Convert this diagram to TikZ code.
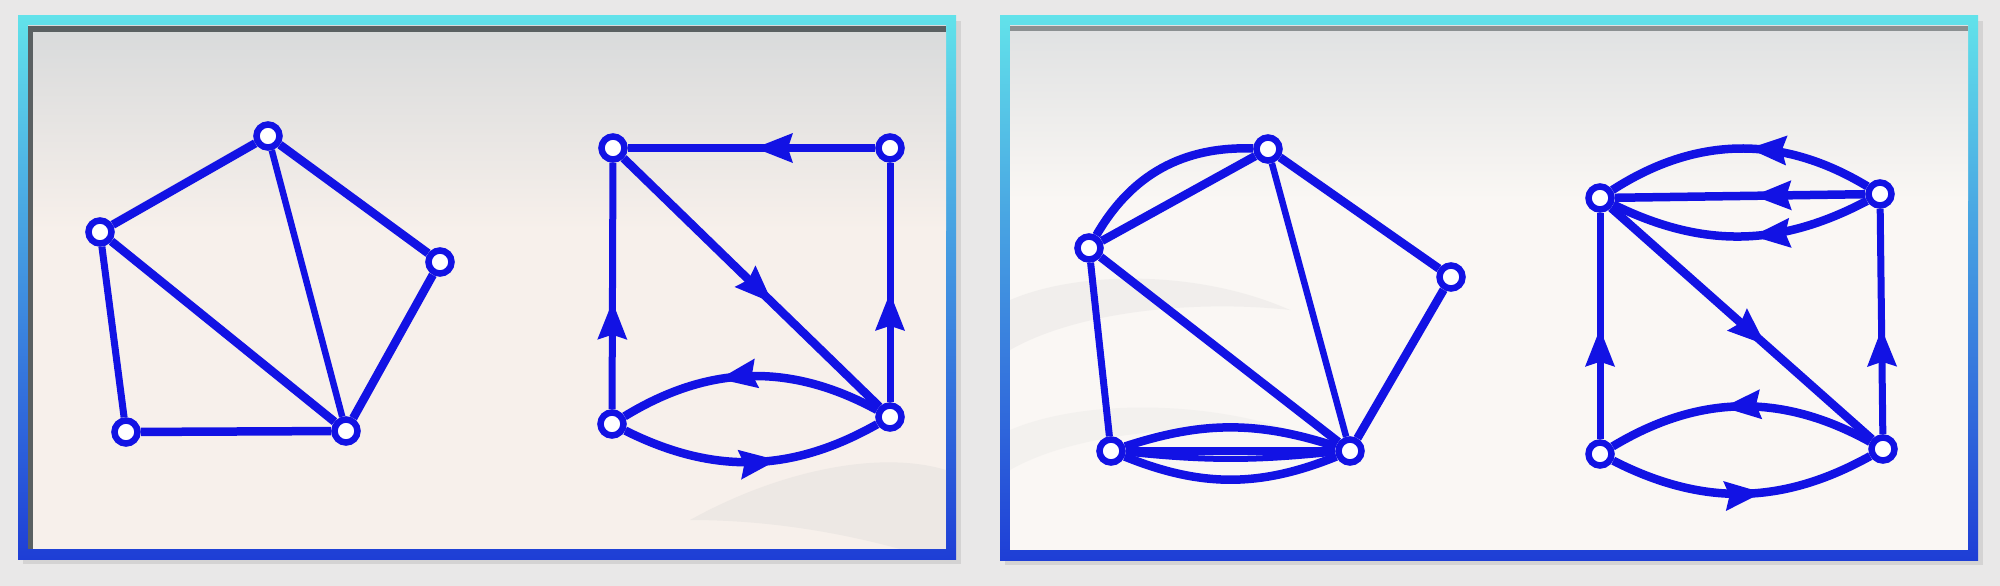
\documentclass[tikz,border=0pt]{standalone}
\usetikzlibrary{decorations.markings}
\definecolor{gblue}{RGB}{18,18,228}
\definecolor{fcyan}{RGB}{98,226,234}
\definecolor{fblue}{RGB}{30,62,214}
\definecolor{bgtop}{RGB}{216,218,219}
\definecolor{bgcream}{RGB}{247,240,235}
\definecolor{bgwhite}{RGB}{250,247,244}
\definecolor{outbg}{RGB}{233,232,232}
\definecolor{shadowc}{RGB}{90,96,98}
\pgfdeclarelayer{back}
\pgfdeclarelayer{edges}
\pgfsetlayers{back,edges,main}
\begin{document}
\begin{tikzpicture}[x=1pt,y=1pt,
  vtx/.style={circle,draw=gblue,line width=6.5pt,fill=white,inner sep=0pt,minimum size=23pt},
  edge/.style={gblue,line width=8.5pt},
  midarrow/.style={postaction={decorate},decoration={markings,mark=at position #1 with {\fill[gblue] (4pt,0pt) -- (-34pt,15pt) -- (-29pt,0pt) -- (-34pt,-15pt) -- cycle;}}},
  midarrow/.default=0.5,
  framebox/.style={top color=fcyan,bottom color=fblue}]
\useasboundingbox (0,0) rectangle (2000,-586);
\begin{pgfonlayer}{back}
  \fill[outbg] (0,0) rectangle (2000,-586);
  % left panel
  \fill[gray!45,opacity=0.6] (23,-21) rectangle (961,-564);
  \shade[framebox] (18,-16) rectangle (956,-559);
  \fill[bgcream] (28,-26) rectangle (946,-549);
  \shade[top color=bgtop,bottom color=bgcream] (28,-26) rectangle (946,-230);
  \fill[shadowc] (28,-26) rectangle (946,-32);
  \fill[shadowc] (28,-26) rectangle (33,-549);
  \fill[gray!40,opacity=0.22] (690,-520) .. controls (780,-470) and (880,-450) .. (946,-470) -- (946,-549) -- (900,-549) .. controls (830,-530) and (760,-520) .. (690,-520) -- cycle;
  % right panel
  \fill[gray!45,opacity=0.6] (1005,-21) rectangle (1983,-565);
  \shade[framebox] (1000,-16) rectangle (1978,-560);
  \fill[bgwhite] (1010,-26) rectangle (1968,-550);
  \shade[top color=bgtop!80!white,bottom color=bgwhite] (1010,-26) rectangle (1968,-200);
  \fill[shadowc!70] (1010,-26) rectangle (1968,-31);
  \fill[gray!35,opacity=0.22] (1010,-300) .. controls (1080,-270) and (1200,-270) .. (1290,-310) .. controls (1200,-300) and (1080,-310) .. (1010,-350) -- cycle;
  \fill[gray!30,opacity=0.2] (1010,-430) .. controls (1080,-400) and (1200,-400) .. (1290,-430) .. controls (1200,-425) and (1080,-430) .. (1010,-470) -- cycle;
\end{pgfonlayer}

% left undirected graph
\node[vtx] (A) at (268,-136) {};
\node[vtx] (B) at (100,-232) {};
\node[vtx] (C) at (440,-262) {};
\node[vtx] (D) at (126,-432) {};
\node[vtx] (E) at (346,-431) {};
% left directed graph
\node[vtx] (P) at (613,-148) {};
\node[vtx] (Q) at (890,-148) {};
\node[vtx] (R) at (612,-424) {};
\node[vtx] (S) at (890,-417) {};
% right undirected multigraph
\node[vtx] (A2) at (1268,-149) {};
\node[vtx] (B2) at (1089,-248) {};
\node[vtx] (C2) at (1451,-277) {};
\node[vtx] (D2) at (1111,-451) {};
\node[vtx] (E2) at (1350,-451) {};
% right directed multigraph
\node[vtx] (P2) at (1600,-198) {};
\node[vtx] (Q2) at (1880,-194) {};
\node[vtx] (R2) at (1600,-454) {};
\node[vtx] (S2) at (1883,-449) {};

\begin{pgfonlayer}{edges}
  \draw[edge] (A) -- (B);
  \draw[edge] (A) -- (C);
  \draw[edge,line width=6.5pt] (A) -- (E);
  \draw[edge] (B) -- (E);
  \draw[edge,line width=7pt] (B) -- (D);
  \draw[edge] (D) -- (E);
  \draw[edge] (C) -- (E);

  \draw[edge,midarrow=0.47] (Q) -- (P);
  \draw[edge,midarrow=0.57] (P) -- (S);
  \draw[edge,line width=7pt,midarrow=0.42] (R) -- (P);
  \draw[edge,line width=7pt,midarrow=0.44] (S) -- (Q);
  \draw[edge,midarrow=0.6] (S) to[bend right=30] (R);
  \draw[edge,midarrow=0.58] (R) to[bend right=28] (S);

  \draw[edge] (A2) -- (B2);
  \draw[edge] (B2) to[out=60,in=178] (A2);
  \draw[edge] (A2) -- (C2);
  \draw[edge,line width=6.5pt] (A2) -- (E2);
  \draw[edge] (B2) -- (E2);
  \draw[edge,line width=7pt] (B2) -- (D2);
  \draw[edge] (C2) -- (E2);
  \draw[edge] (D2) to[bend left=18] (E2);
  \draw[edge] (D2) -- (E2);
  \draw[edge,line width=6pt] (D2) to[bend right=6] (E2);
  \draw[edge] (D2) to[bend right=22] (E2);

  \draw[edge,midarrow=0.45] (Q2) to[bend right=32] (P2);
  \draw[edge,midarrow=0.43] (Q2) -- (P2);
  \draw[edge,midarrow=0.44] (Q2) to[bend left=27] (P2);
  \draw[edge,midarrow=0.58] (P2) -- (S2);
  \draw[edge,line width=7pt,midarrow=0.47] (R2) -- (P2);
  \draw[edge,line width=7pt,midarrow=0.45] (S2) -- (Q2);
  \draw[edge,midarrow=0.55] (S2) to[bend right=30] (R2);
  \draw[edge,midarrow=0.56] (R2) to[bend right=28] (S2);
\end{pgfonlayer}
\end{tikzpicture}
\end{document}
